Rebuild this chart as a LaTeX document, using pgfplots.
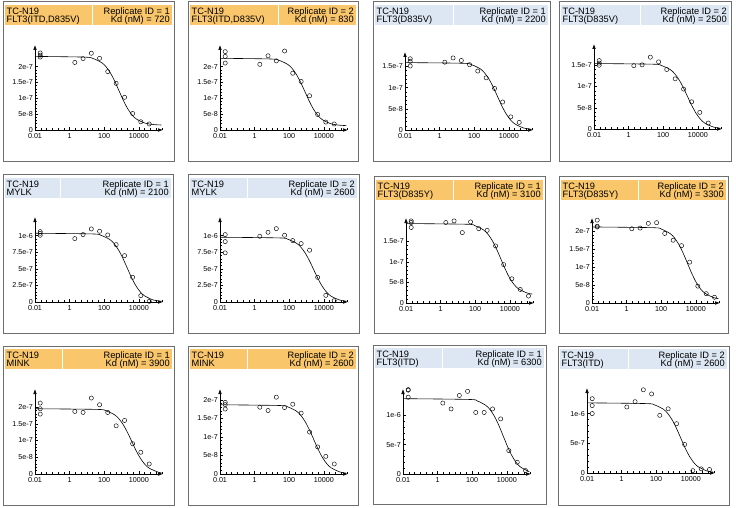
\documentclass[border=0pt]{standalone}
\usepackage{pgfplots}
\pgfplotsset{compat=1.18}
\usepackage{fontspec}
\setmainfont{Liberation Sans}
\usetikzlibrary{arrows.meta}
\definecolor{hdrorange}{HTML}{F9C66C}
\definecolor{hdrblue}{HTML}{DCE7F3}
\definecolor{framec}{HTML}{6E6E6E}
\newcommand{\hdr}{\fontsize{9.3}{10}\selectfont}
% \Panel{left}{top}{width}{height}{split}{colour}{kinase}{replicate}{Kd}
\newcommand{\Panel}[9]{%
  \draw[framec, line width=1bp] (#1,#2) rectangle ++(#3,#4);
  \fill[#6] (#1+2,#2+3) rectangle (#1+2+#5,#2+23);
  \fill[#6] (#1+3+#5,#2+3) rectangle (#1+#3-2,#2+23);
  \node[anchor=base west, inner sep=0, font=\hdr] at (#1+3.5,#2+12.6) {TC-N19};
  \node[anchor=base west, inner sep=0, font=\hdr] at (#1+3.5,#2+20.8) {#7};
  \node[anchor=base east, inner sep=0, font=\hdr] at (#1+#3-4,#2+12.6) {Replicate ID = #8};
  \node[anchor=base east, inner sep=0, font=\hdr] at (#1+#3-4,#2+20.8) {Kd (nM) = #9};
}
\pgfplotsset{
  every axis/.append style={
    scale only axis, width=128bp, height=85bp, anchor=south west,
    xmin=0.01, xmax=2.5e5, ymin=0,
    axis lines=left,
    axis line style={line width=0.6bp,-{Latex[length=5bp,width=3.6bp]}},
    xtick={0.01,1,100,10000}, xticklabels={0.01,1,100,10000},
    minor xtick={0.0215,0.0464,0.1,0.215,0.464,2.15,4.64,10,21.5,46.4,215,464,1000,2154,4642,21544,46416,100000,215443},
    minor y tick num=4,
    tick align=inside,
    major tick length=2.8bp, minor tick length=1.6bp,
    every tick/.append style={line width=0.45bp, black},
    tick label style={font=\fontsize{7.2}{8}\selectfont, inner sep=1.2bp},
    xticklabel style={yshift=-1.8bp},
    yticklabel style={xshift=-0.8bp},
    scaled y ticks=false,
    clip=false,
  },
  ticksA/.style={ytick={0,5e-8,1e-7,1.5e-7,2e-7}, yticklabels={0,5e-8,1e-7,1.5e-7,2e-7}},
  ticksB/.style={ytick={0,5e-8,1e-7,1.5e-7}, yticklabels={0,5e-8,1e-7,1.5e-7}},
  ticksC/.style={ytick={0,2.5e-7,5e-7,7.5e-7,1e-6}, yticklabels={0,2.5e-7,5e-7,7.5e-7,1e-6}},
  ticksD/.style={ytick={0,5e-7,1e-6}, yticklabels={0,5e-7,1e-6}},
  fitcurve/.style={black, line width=0.6bp, smooth, no markers},
  datapts/.style={only marks, mark=o, mark size=2.1bp, mark options={black, line width=0.45bp}},
}
\begin{document}
\begin{tikzpicture}[x=1bp,y=-1bp]
\useasboundingbox (0,0) rectangle (736,508);
\Panel{3}{2}{171}{160}{87}{hdrorange}{FLT3(ITD,D835V)}{1}{720}
\Panel{188}{2}{170}{160}{88}{hdrorange}{FLT3(ITD,D835V)}{2}{830}
\Panel{373}{2}{177}{160}{78}{hdrblue}{FLT3(D835V)}{1}{2200}
\Panel{559}{2}{172}{160}{79}{hdrblue}{FLT3(D835V)}{2}{2500}
\Panel{3}{175}{170}{158}{55}{hdrblue}{MYLK}{1}{2100}
\Panel{188}{175}{171}{158}{57}{hdrblue}{MYLK}{2}{2600}
\Panel{374}{177}{171}{156}{77}{hdrorange}{FLT3(D835Y)}{1}{3100}
\Panel{559}{177}{169}{156}{77}{hdrorange}{FLT3(D835Y)}{2}{3300}
\Panel{3}{346}{171}{159}{57}{hdrorange}{MINK}{1}{3900}
\Panel{188}{346}{170}{159}{57}{hdrorange}{MINK}{2}{2600}
\Panel{373}{345}{173}{159}{67}{hdrblue}{FLT3(ITD)}{1}{6300}
\Panel{558}{346}{171}{159}{68}{hdrblue}{FLT3(ITD)}{2}{2600}

% Row 1
\begin{semilogxaxis}[ticksA, at={(35bp,-130bp)}, ymax=2.68e-7]
\addplot[fitcurve] coordinates {(0.01,2.32e-7) (7.2,2.298e-7) (22.8,2.253e-7) (72,2.123e-7) (128,1.993e-7) (228,1.799e-7) (405,1.539e-7) (720,1.235e-7) (1282,0.931e-7) (2277,0.671e-7) (4050,0.477e-7) (7200,0.347e-7) (22770,0.217e-7) (72000,0.172e-7) (200000,0.158e-7)};
\addplot[datapts] coordinates {(0.02,2.43e-7) (0.02,2.36e-7) (0.02,2.30e-7) (2,2.13e-7) (6,2.25e-7) (18,2.42e-7) (54,2.26e-7) (160,1.84e-7) (490,1.47e-7) (1500,1.03e-7) (4400,0.52e-7) (13000,0.26e-7) (40000,0.19e-7)};
\end{semilogxaxis}
\begin{semilogxaxis}[ticksA, at={(220bp,-130bp)}, ymax=2.68e-7]
\addplot[fitcurve] coordinates {(0.01,2.26e-7) (8.3,2.239e-7) (26.2,2.195e-7) (83,2.066e-7) (148,1.939e-7) (262,1.748e-7) (467,1.493e-7) (830,1.195e-7) (1476,0.897e-7) (2625,0.642e-7) (4665,0.451e-7) (8300,0.324e-7) (26250,0.195e-7) (83000,0.151e-7) (200000,0.139e-7)};
\addplot[datapts] coordinates {(0.02,2.47e-7) (0.02,2.32e-7) (0.02,2.11e-7) (2,2.07e-7) (6,2.34e-7) (18,2.18e-7) (54,2.49e-7) (160,1.79e-7) (490,1.53e-7) (1500,1.08e-7) (4400,0.49e-7) (13000,0.25e-7) (40000,0.19e-7)};
\end{semilogxaxis}
\begin{semilogxaxis}[ticksB, at={(405bp,-130bp)}, ymax=1.84e-7, height=78bp]
\addplot[fitcurve] coordinates {(0.01,1.59e-7) (22,1.574e-7) (69.6,1.541e-7) (220,1.445e-7) (391,1.350e-7) (696,1.208e-7) (1237,1.018e-7) (2200,0.795e-7) (3912,0.572e-7) (6957,0.382e-7) (12370,0.240e-7) (22000,0.145e-7) (69570,0.049e-7) (200000,0.0173e-7)};
\addplot[datapts] coordinates {(0.02,1.68e-7) (0.02,1.62e-7) (0.02,1.51e-7) (2,1.60e-7) (6,1.70e-7) (18,1.64e-7) (54,1.54e-7) (160,1.39e-7) (490,1.23e-7) (1500,0.98e-7) (4400,0.66e-7) (13000,0.31e-7) (40000,0.18e-7)};
\end{semilogxaxis}
\begin{semilogxaxis}[ticksB, at={(594bp,-129bp)}, ymax=2.0e-7]
\addplot[fitcurve] coordinates {(0.01,1.54e-7) (25,1.525e-7) (79,1.493e-7) (250,1.400e-7) (445,1.308e-7) (790,1.170e-7) (1405,0.986e-7) (2500,0.770e-7) (4450,0.554e-7) (7900,0.370e-7) (14050,0.232e-7) (25000,0.140e-7) (79000,0.047e-7) (200000,0.019e-7)};
\addplot[datapts] coordinates {(0.02,1.61e-7) (0.02,1.55e-7) (0.02,1.50e-7) (2,1.49e-7) (6,1.51e-7) (18,1.69e-7) (54,1.58e-7) (160,1.40e-7) (490,1.18e-7) (1500,0.94e-7) (4400,0.64e-7) (13000,0.39e-7) (40000,0.14e-7)};
\end{semilogxaxis}

% Row 2
\begin{semilogxaxis}[ticksC, at={(35bp,-302bp)}, ymax=1.28e-6]
\addplot[fitcurve] coordinates {(0.01,1.035e-6) (21,1.025e-6) (66.4,1.003e-6) (210,0.941e-6) (374,0.879e-6) (664,0.786e-6) (1180,0.662e-6) (2100,0.5175e-6) (3738,0.3725e-6) (6640,0.2487e-6) (11800,0.1562e-6) (21000,0.0941e-6) (66400,0.0318e-6) (200000,0.0108e-6)};
\addplot[datapts] coordinates {(0.02,1.06e-6) (0.02,1.035e-6) (0.02,1.005e-6) (2,0.955e-6) (6,1.015e-6) (18,1.10e-6) (54,1.065e-6) (160,1.01e-6) (490,0.864e-6) (1500,0.698e-6) (4400,0.372e-6) (13000,0.095e-6) (40000,0.01e-6)};
\end{semilogxaxis}
\begin{semilogxaxis}[ticksC, at={(220bp,-302bp)}, ymax=1.28e-6]
\addplot[fitcurve] coordinates {(0.01,0.975e-6) (26,0.965e-6) (82,0.945e-6) (260,0.886e-6) (462,0.828e-6) (822,0.741e-6) (1461,0.624e-6) (2600,0.4875e-6) (4628,0.351e-6) (8222,0.234e-6) (14610,0.147e-6) (26000,0.0886e-6) (82220,0.0299e-6) (200000,0.0125e-6)};
\addplot[datapts] coordinates {(0.02,1.015e-6) (0.02,0.91e-6) (0.02,0.74e-6) (2,0.99e-6) (6,1.05e-6) (18,1.105e-6) (54,1.005e-6) (160,0.925e-6) (490,0.88e-6) (1500,0.78e-6) (4400,0.372e-6) (13000,0.10e-6) (40000,0.02e-6)};
\end{semilogxaxis}
\begin{semilogxaxis}[ticksB, at={(406bp,-303bp)}, ymax=2.07e-7]
\addplot[fitcurve] coordinates {(0.01,1.935e-7) (31,1.918e-7) (98,1.881e-7) (310,1.776e-7) (552,1.672e-7) (980,1.516e-7) (1742,1.307e-7) (3100,1.063e-7) (5518,0.818e-7) (9803,0.609e-7) (17420,0.453e-7) (31000,0.349e-7) (98030,0.244e-7) (200000,0.217e-7)};
\addplot[datapts] coordinates {(0.02,2.00e-7) (0.02,1.96e-7) (0.02,1.84e-7) (2,1.96e-7) (6,2.00e-7) (18,1.715e-7) (54,1.975e-7) (160,1.81e-7) (490,1.77e-7) (1500,1.39e-7) (4400,0.935e-7) (13000,0.59e-7) (40000,0.33e-7) (120000,0.17e-7)};
\end{semilogxaxis}
\begin{semilogxaxis}[ticksA, at={(592bp,-303bp)}, ymax=2.37e-7]
\addplot[fitcurve] coordinates {(0.01,2.12e-7) (33,2.100e-7) (104,2.058e-7) (330,1.935e-7) (587,1.814e-7) (1043,1.632e-7) (1855,1.389e-7) (3300,1.105e-7) (5874,0.821e-7) (10430,0.578e-7) (18550,0.396e-7) (33000,0.2745e-7) (104300,0.152e-7) (200000,0.123e-7)};
\addplot[datapts] coordinates {(0.02,2.31e-7) (0.02,2.14e-7) (0.02,2.12e-7) (2,2.07e-7) (6,2.09e-7) (18,2.22e-7) (54,2.24e-7) (160,1.94e-7) (490,1.75e-7) (1500,1.60e-7) (4400,1.14e-7) (13000,0.47e-7) (40000,0.26e-7) (120000,0.16e-7)};
\end{semilogxaxis}

% Row 3
\begin{semilogxaxis}[ticksA, at={(35bp,-474bp)}, ymax=2.54e-7]
\addplot[fitcurve] coordinates {(0.01,1.95e-7) (39,1.9305e-7) (123,1.890e-7) (390,1.773e-7) (694,1.656e-7) (1233,1.481e-7) (2192,1.248e-7) (3900,0.975e-7) (6942,0.702e-7) (12330,0.469e-7) (21920,0.294e-7) (39000,0.177e-7) (123300,0.060e-7) (200000,0.0373e-7)};
\addplot[datapts] coordinates {(0.02,2.12e-7) (0.02,1.95e-7) (0.02,1.79e-7) (2,1.87e-7) (6,1.84e-7) (18,2.27e-7) (54,2.07e-7) (160,1.84e-7) (490,1.44e-7) (1500,1.60e-7) (4400,0.905e-7) (13000,0.65e-7) (40000,0.30e-7)};
\end{semilogxaxis}
\begin{semilogxaxis}[ticksA, at={(220bp,-474bp)}, ymax=2.29e-7]
\addplot[fitcurve] coordinates {(0.01,1.865e-7) (26,1.846e-7) (82,1.808e-7) (260,1.695e-7) (462,1.584e-7) (822,1.417e-7) (1461,1.194e-7) (2600,0.9325e-7) (4628,0.671e-7) (8222,0.448e-7) (14610,0.281e-7) (26000,0.1695e-7) (82220,0.0573e-7) (200000,0.0239e-7)};
\addplot[datapts] coordinates {(0.02,1.93e-7) (0.02,1.87e-7) (0.02,1.75e-7) (2,1.80e-7) (6,1.71e-7) (18,2.07e-7) (54,1.79e-7) (160,1.88e-7) (490,1.64e-7) (1500,1.13e-7) (4400,0.73e-7) (13000,0.475e-7) (40000,0.27e-7)};
\end{semilogxaxis}
\begin{semilogxaxis}[ticksD, at={(403bp,-474bp)}, ymax=1.45e-6]
\addplot[fitcurve] coordinates {(0.01,1.285e-6) (63,1.272e-6) (199,1.2456e-6) (630,1.168e-6) (1121,1.091e-6) (1992,0.976e-6) (3541,0.8225e-6) (6300,0.6425e-6) (11210,0.4625e-6) (19920,0.3088e-6) (35410,0.1939e-6) (63000,0.1168e-6) (199200,0.0394e-6)};
\addplot[datapts] coordinates {(0.02,1.44e-6) (0.02,1.43e-6) (0.02,1.31e-6) (2,1.21e-6) (6,1.11e-6) (18,1.34e-6) (54,1.41e-6) (160,1.05e-6) (490,1.05e-6) (1500,1.11e-6) (4400,0.94e-6) (13000,0.40e-6) (40000,0.20e-6) (120000,0.06e-6)};
\end{semilogxaxis}
\begin{semilogxaxis}[ticksD, at={(587bp,-473bp)}, ymax=1.43e-6]
\addplot[fitcurve] coordinates {(0.01,1.18e-6) (26,1.168e-6) (82,1.144e-6) (260,1.073e-6) (462,1.002e-6) (822,0.896e-6) (1461,0.755e-6) (2600,0.59e-6) (4628,0.4245e-6) (8222,0.2836e-6) (14610,0.178e-6) (26000,0.1073e-6) (82220,0.0362e-6) (200000,0.0151e-6)};
\addplot[datapts] coordinates {(0.02,1.25e-6) (0.02,1.135e-6) (0.02,1.00e-6) (2,1.11e-6) (6,1.20e-6) (18,1.40e-6) (54,1.33e-6) (160,0.97e-6) (490,1.08e-6) (1500,0.83e-6) (4400,0.48e-6) (13000,0.04e-6) (40000,0.07e-6) (120000,0.06e-6)};
\end{semilogxaxis}
\end{tikzpicture}
\end{document}
